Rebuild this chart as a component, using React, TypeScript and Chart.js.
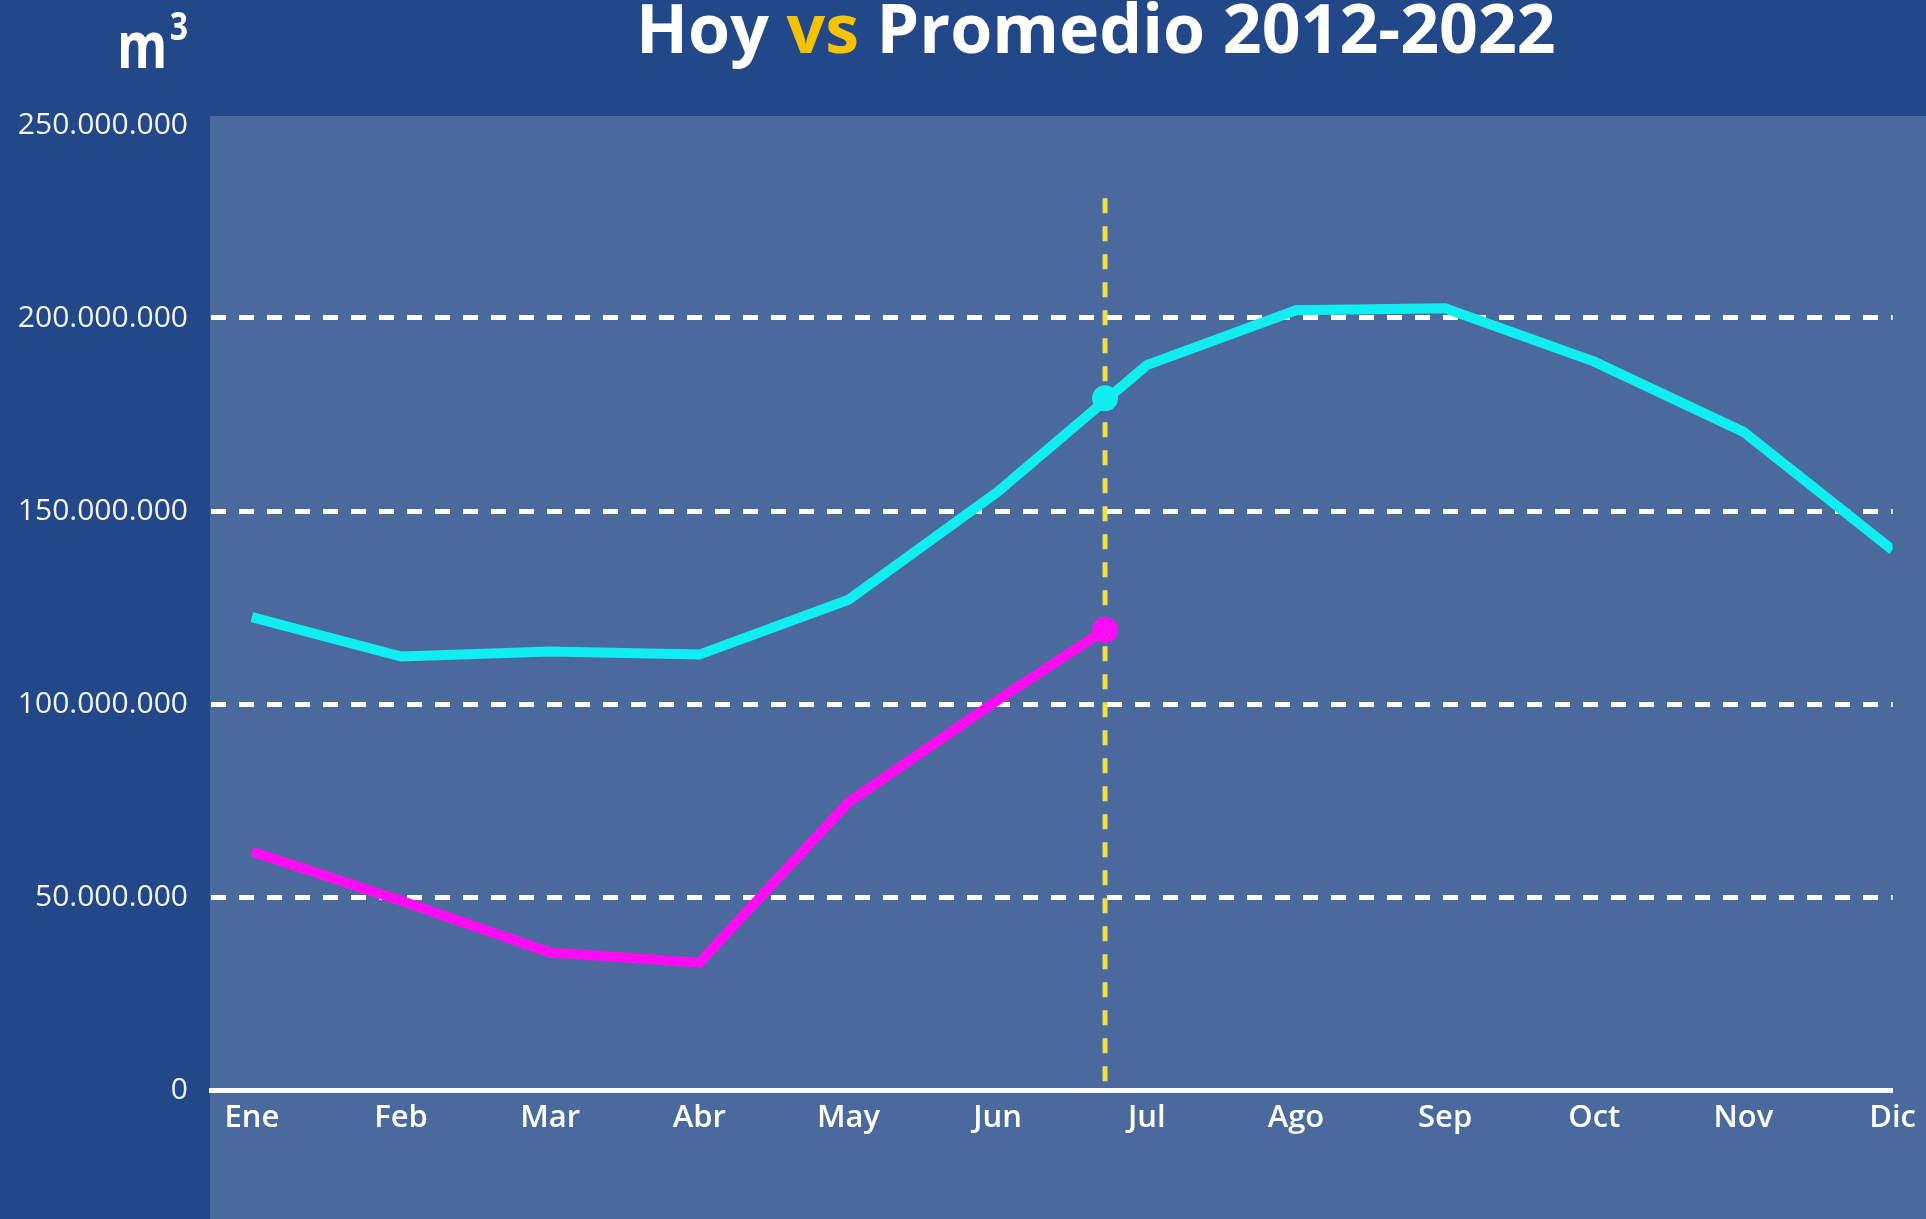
import React, { useEffect, useRef } from 'react';
import { Chart, registerables } from 'chart.js';

Chart.register(...registerables);

// ---- data ----
const MONTHS = ['Ene', 'Feb', 'Mar', 'Abr', 'May', 'Jun', 'Jul', 'Ago', 'Sep', 'Oct', 'Nov', 'Dic'];
const PROMEDIO = [122500000, 112300000, 113600000, 112800000, 127000000, 155000000, 187800000, 202000000, 202500000, 188700000, 170500000, 139900000];
const HOY = [61800000, 49000000, 35600000, 33000000, 74500000, 101000000];
const HOY_X = 5.72; // position of "today" on the month axis
const HOY_ACTUAL = 119200000;
const PROMEDIO_HOY = 179200000;
const HOY_LINE_TOP = 231000000;
const Y_TICKS = [0, 50000000, 100000000, 150000000, 200000000, 250000000];
const TITLE_PARTS = ['Hoy ', 'vs', ' Promedio 2012-2022'];
const UNIT = 'm';
const UNIT_SUP = '3';

// ---- style ----
const OUTER_BG = '#23488a';
const PANEL_BG = '#4a699c';
const CYAN = '#10eef0';
const MAGENTA = '#ff0cf2';
const YELLOW = '#f2e040';
const TITLE_YELLOW = '#f5c300';
const FONT = '"Open Sans", "Noto Sans", sans-serif';

const fmt = (v: number) => String(Math.round(v)).replace(/\B(?=(\d{3})+(?!\d))/g, '.');

const decorPlugin = {
  id: 'decor',
  beforeDraw(chart: any) {
    const { ctx, width, height, chartArea } = chart;
    ctx.save();
    ctx.fillStyle = OUTER_BG;
    ctx.fillRect(0, 0, width, height);
    ctx.fillStyle = PANEL_BG;
    ctx.fillRect(chartArea.left - 1, chartArea.top - 9, width - chartArea.left + 1, height);
    ctx.restore();
  },
  afterDraw(chart: any) {
    const { ctx } = chart;
    ctx.save();
    ctx.textBaseline = 'alphabetic';
    ctx.textAlign = 'left';
    ctx.font = `bold 68px ${FONT}`;
    let x = 636;
    TITLE_PARTS.forEach((t, i) => {
      ctx.fillStyle = i === 1 ? TITLE_YELLOW : '#ffffff';
      ctx.fillText(t, x, 53);
      x += ctx.measureText(t).width;
    });
    // unit label, slightly condensed
    ctx.fillStyle = '#ffffff';
    ctx.translate(117, 0);
    ctx.scale(0.8, 1);
    ctx.font = `bold 64px ${FONT}`;
    ctx.fillText(UNIT, 0, 68);
    const mw = ctx.measureText(UNIT).width;
    ctx.font = `bold 40px ${FONT}`;
    ctx.fillText(UNIT_SUP, mw + 3, 40);
    ctx.restore();
  },
};

export default function App() {
  const ref = useRef<HTMLCanvasElement | null>(null);

  useEffect(() => {
    document.body.style.margin = '0';
    document.body.style.background = OUTER_BG;
    const canvas = ref.current;
    if (!canvas) return;

    const chart = new Chart(canvas, {
      type: 'line',
      data: {
        datasets: [
          {
            label: 'Hoy (línea)',
            data: [
              { x: HOY_X, y: HOY_LINE_TOP },
              { x: HOY_X, y: 0 },
            ],
            borderColor: YELLOW,
            borderWidth: 5,
            borderDash: [15, 13],
            pointRadius: 0,
            order: 5,
          },
          {
            label: 'Promedio 2012-2022',
            data: PROMEDIO.map((v, i) => ({ x: i, y: v })),
            borderColor: CYAN,
            borderWidth: 10,
            pointRadius: 0,
            tension: 0,
            order: 2,
          },
          {
            label: 'Promedio hoy',
            data: [{ x: HOY_X, y: PROMEDIO_HOY }],
            backgroundColor: CYAN,
            borderColor: CYAN,
            showLine: false,
            pointRadius: 13,
            pointBorderWidth: 0,
            order: 1,
          },
          {
            label: 'Hoy',
            data: [...HOY.map((v, i) => ({ x: i, y: v })), { x: HOY_X, y: HOY_ACTUAL }],
            borderColor: MAGENTA,
            backgroundColor: MAGENTA,
            borderWidth: 10,
            pointRadius: [...HOY.map(() => 0), 13],
            pointBorderWidth: 0,
            tension: 0,
            order: 0,
          },
        ],
      },
      options: {
        animation: false,
        responsive: false,
        devicePixelRatio: 1,
        layout: { padding: { top: 125, right: 27, bottom: 0, left: 0 } },
        plugins: {
          legend: { display: false },
          tooltip: { enabled: false },
          title: { display: false },
        },
        scales: {
          x: {
            type: 'linear',
            min: -0.274,
            max: 11,
            afterBuildTicks: (scale: any) => {
              scale.ticks = MONTHS.map((_, i) => ({ value: i }));
            },
            afterFit: (scale: any) => {
              scale.height = 129;
            },
            grid: { display: false, drawTicks: false },
            border: { display: true, color: '#ffffff', width: 5 },
            ticks: {
              autoSkip: false,
              maxRotation: 0,
              padding: 10,
              color: '#ffffff',
              font: { family: FONT, size: 31, weight: '600' as any },
              callback: (v: any) => MONTHS[Math.round(Number(v))] ?? '',
            },
          },
          y: {
            type: 'linear',
            min: 0,
            max: 250000000,
            afterBuildTicks: (scale: any) => {
              scale.ticks = Y_TICKS.map((v) => ({ value: v }));
            },
            afterFit: (scale: any) => {
              scale.width = 211;
            },
            grid: {
              drawTicks: false,
              lineWidth: 5,
              color: (c: any) =>
                c.tick && (c.tick.value === 0 || c.tick.value === 250000000) ? 'rgba(0,0,0,0)' : '#ffffff',
            },
            border: { display: false, dash: [15, 13] },
            ticks: {
              padding: 23,
              color: '#f4f4f4',
              font: { family: FONT, size: 30 },
              callback: (v: any) => fmt(Number(v)),
            },
          },
        },
      },
      plugins: [decorPlugin],
    });

    return () => chart.destroy();
  }, []);

  return (
    <div style={{ width: 1926, height: 1219, overflow: 'hidden' }}>
      <canvas ref={ref} width={1926} height={1219} style={{ display: 'block' }} />
    </div>
  );
}
